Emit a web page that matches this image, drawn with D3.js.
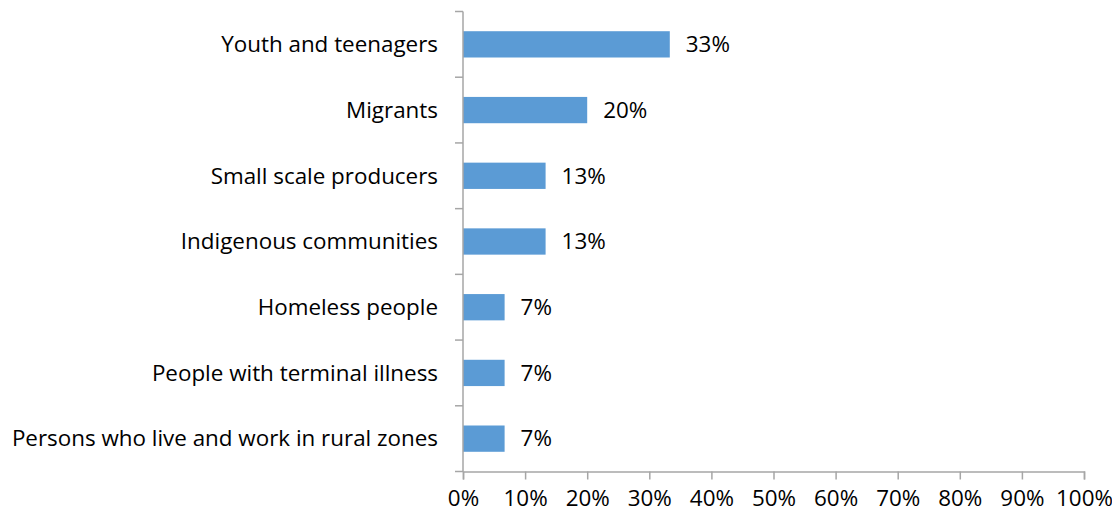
<!DOCTYPE html>
<html>
<head>
<meta charset="utf-8">
<script src="https://cdn.jsdelivr.net/npm/d3@7"></script>
<style>
  html, body { margin: 0; padding: 0; background: #fff; }
  svg text { font-family: "Open Sans", sans-serif; fill: #000; }
</style>
</head>
<body>
<svg id="chart" width="1112" height="512"></svg>
<script>
// Share of respondents by population group
const categories = [
  "Youth and teenagers",
  "Migrants",
  "Small scale producers",
  "Indigenous communities",
  "Homeless people",
  "People with terminal illness",
  "Persons who live and work in rural zones"
];
const values = [33.3, 20, 13.3, 13.3, 6.7, 6.7, 6.7];
const xTicks = [0, 10, 20, 30, 40, 50, 60, 70, 80, 90, 100];

const svg = d3.select("#chart");
const margin = { left: 463, right: 28, top: 11.5, bottom: 40.5 };
const W = 1112, H = 512;
const fontSize = 22.4;

const x = d3.scaleLinear().domain([0, 100]).range([margin.left, W - margin.right]);
const y = d3.scaleBand().domain(categories).range([margin.top, H - margin.bottom]).paddingInner(0.6).paddingOuter(0.3);
const yOuter = d3.scaleBand().domain(categories).range([margin.top, H - margin.bottom]);

const axisColor = "#a6a6a6";

// bars
svg.append("g").selectAll("rect").data(categories).join("rect")
  .attr("x", x(0))
  .attr("y", d => y(d))
  .attr("width", (d, i) => x(values[i]) - x(0))
  .attr("height", y.bandwidth())
  .attr("fill", "#5b9bd5");

// value labels
svg.append("g").selectAll("text").data(categories).join("text")
  .attr("x", (d, i) => x(values[i]) + 16)
  .attr("y", d => y(d) + y.bandwidth() / 2)
  .attr("dy", "0.35em")
  .attr("font-size", fontSize)
  .text((d, i) => d3.format(".0f")(values[i]) + "%");

// x axis
const xAxis = svg.append("g").attr("transform", `translate(0,${H - margin.bottom})`)
  .call(d3.axisBottom(x).tickValues(xTicks).tickFormat(d => d + "%").tickSizeOuter(0).tickSize(8).tickPadding(11));
xAxis.select(".domain").attr("stroke", axisColor).attr("stroke-width", 1.5);
xAxis.selectAll(".tick line").attr("stroke", axisColor).attr("stroke-width", 1.5);
xAxis.selectAll("text").attr("font-size", fontSize).attr("font-family", "'Open Sans', sans-serif");

// y axis: separator ticks between categories, labels at band centers
const yAxisG = svg.append("g").attr("transform", `translate(${margin.left},0)`);
yAxisG.append("line")
  .attr("x1", 0).attr("x2", 0)
  .attr("y1", margin.top).attr("y2", H - margin.bottom)
  .attr("stroke", axisColor).attr("stroke-width", 1.5);
const bounds = categories.map(c => yOuter(c)).concat([H - margin.bottom]);
yAxisG.selectAll("line.sep").data(bounds).join("line")
  .attr("class", "sep")
  .attr("x1", -8).attr("x2", 0)
  .attr("y1", d => d).attr("y2", d => d)
  .attr("stroke", axisColor).attr("stroke-width", 1.5);
yAxisG.selectAll("text").data(categories).join("text")
  .attr("x", -25)
  .attr("y", d => yOuter(d) + yOuter.bandwidth() / 2)
  .attr("dy", "0.35em")
  .attr("text-anchor", "end")
  .attr("font-size", fontSize)
  .text(d => d);
</script>
</body>
</html>
